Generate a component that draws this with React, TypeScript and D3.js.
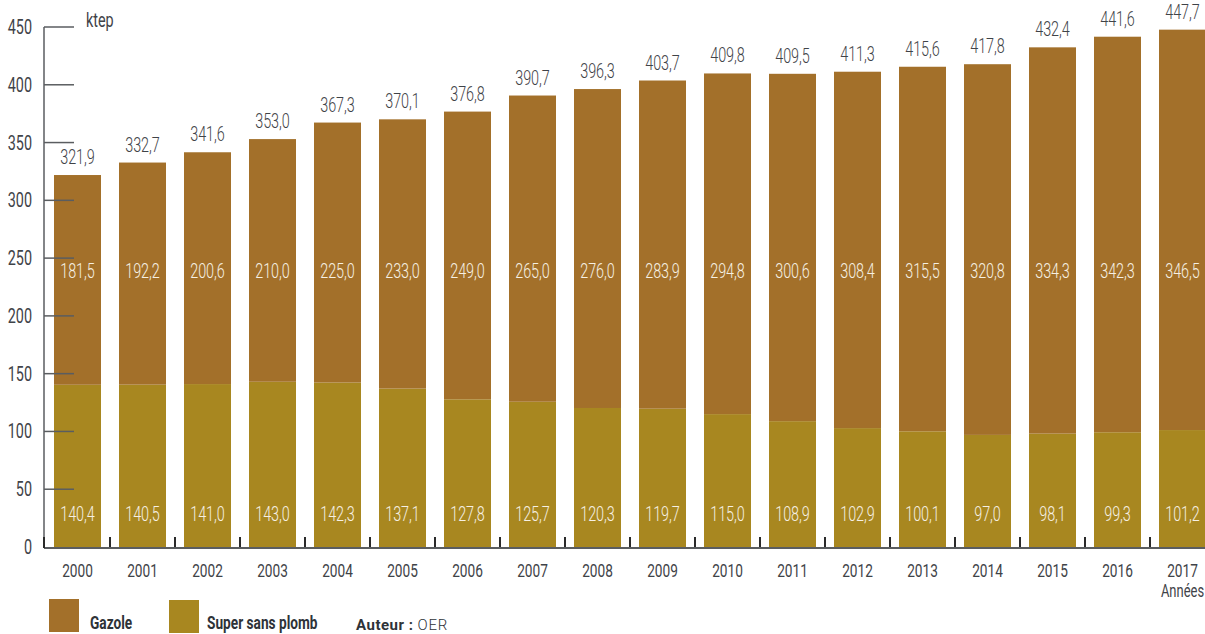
import React from "react";
import * as d3 from "d3";

const years = ["2000","2001","2002","2003","2004","2005","2006","2007","2008","2009","2010","2011","2012","2013","2014","2015","2016","2017"];
const gazole = [181.5,192.2,200.6,210.0,225.0,233.0,249.0,265.0,276.0,283.9,294.8,300.6,308.4,315.5,320.8,334.3,342.3,346.5];
const superSP = [140.4,140.5,141.0,143.0,142.3,137.1,127.8,125.7,120.3,119.7,115.0,108.9,102.9,100.1,97.0,98.1,99.3,101.2];
const totals = [321.9,332.7,341.6,353.0,367.3,370.1,376.8,390.7,396.3,403.7,409.8,409.5,411.3,415.6,417.8,432.4,441.6,447.7];
const yTicks = [0,50,100,150,200,250,300,350,400,450];

const W = 1205, H = 634;
const C_GAZ = "#A3702A";
const C_SUP = "#A88720";
const TXT = "#3f4348";
const FONT = "Roboto, sans-serif";
const SX = 0.72;

const fmt = (v: number) => v.toFixed(1).replace(".", ",");

function T(props: { x: number; y: number; size: number; fill: string; anchor?: string; weight?: number | string; children: React.ReactNode; sx?: number }) {
  const { x, y, size, fill, anchor = "start", weight = 300, children, sx = SX } = props;
  return (
    <g transform={`translate(${x},${y}) scale(${sx},1)`}>
      <text x={0} y={0} textAnchor={anchor as any} fontSize={size} fill={fill} fontWeight={weight} fontFamily={FONT}>{children}</text>
    </g>
  );
}

export default function App() {
  const x = d3.scaleBand<string>().domain(years).range([44, 1216]).paddingInner(18 / 65).paddingOuter(10 / 65);
  const y = d3.scaleLinear().domain([0, 450]).range([547, 27]);
  const bw = x.bandwidth();
  const step = x.step();
  return (
    <svg width={W} height={H} style={{ position: "absolute", left: 0, top: 0 }}>
      {years.map((yr, i) => {
        const x0 = x(yr)!;
        const cx = x0 + bw / 2;
        return (
          <g key={yr}>
            <rect x={x0} width={bw} y={y(superSP[i])} height={y(0) - y(superSP[i])} fill={C_SUP} />
            <rect x={x0} width={bw} y={y(totals[i])} height={y(superSP[i]) - y(totals[i])} fill={C_GAZ} />
            <T x={cx} y={y(totals[i]) - 11} anchor="middle" size={20} fill={TXT}>{fmt(totals[i])}</T>
            <T x={cx} y={y(239) + 7} anchor="middle" size={20} fill="#f6f0e4">{fmt(gazole[i])}</T>
            <T x={cx} y={y(28.5) + 7} anchor="middle" size={20} fill="#f6f0e4">{fmt(superSP[i])}</T>
            <T x={cx} y={577} anchor="middle" size={19} fill={TXT} weight={400}>{yr}</T>
            {i > 0 && <line x1={x0 - (step - bw) / 2} x2={x0 - (step - bw) / 2} y1={537} y2={547} stroke="#2a2a2a" strokeWidth={2} />}
          </g>
        );
      })}
      <T x={x(years[years.length - 1])! + bw / 2} y={597} anchor="middle" size={18} fill={TXT} weight={400}>Années</T>
      {/* y axis */}
      <line x1={44} x2={44} y1={y(450)} y2={y(0) + 1} stroke="#5a5d60" strokeWidth={1.5} />
      <line x1={44} x2={1205} y1={y(0) + 1} y2={y(0) + 1} stroke="#5a5d60" strokeWidth={2} />
      <line x1={44} x2={44} y1={537} y2={548} stroke="#2a2a2a" strokeWidth={2} />
      {yTicks.map((t) => (
        <g key={t}>
          {t > 0 && <line x1={44} x2={74} y1={y(t)} y2={y(t)} stroke="#5a5d60" strokeWidth={1.5} />}
          <T x={32} y={y(t) + 7} anchor="end" size={20} fill={TXT} weight={400}>{t}</T>
        </g>
      ))}
      <T x={86} y={27} size={20} fill={TXT} weight={400}>ktep</T>
      {/* legend */}
      <rect x={49} y={599} width={30} height={33} fill={C_GAZ} />
      <T x={90} y={629} size={19} fill="#2e3338" weight={700}>Gazole</T>
      <rect x={169} y={600} width={30} height={33} fill={C_SUP} />
      <T x={207} y={629} size={19} fill="#2e3338" weight={700}>Super sans plomb</T>
      <g transform="translate(356,630)">
        <text fontSize={15} fill="#2e3338" fontFamily="Roboto, sans-serif">
          <tspan fontWeight={700} letterSpacing={0.5}>Auteur :</tspan>
          <tspan dx={4} fontWeight={300} letterSpacing={0.8}>OER</tspan>
        </text>
      </g>
    </svg>
  );
}
